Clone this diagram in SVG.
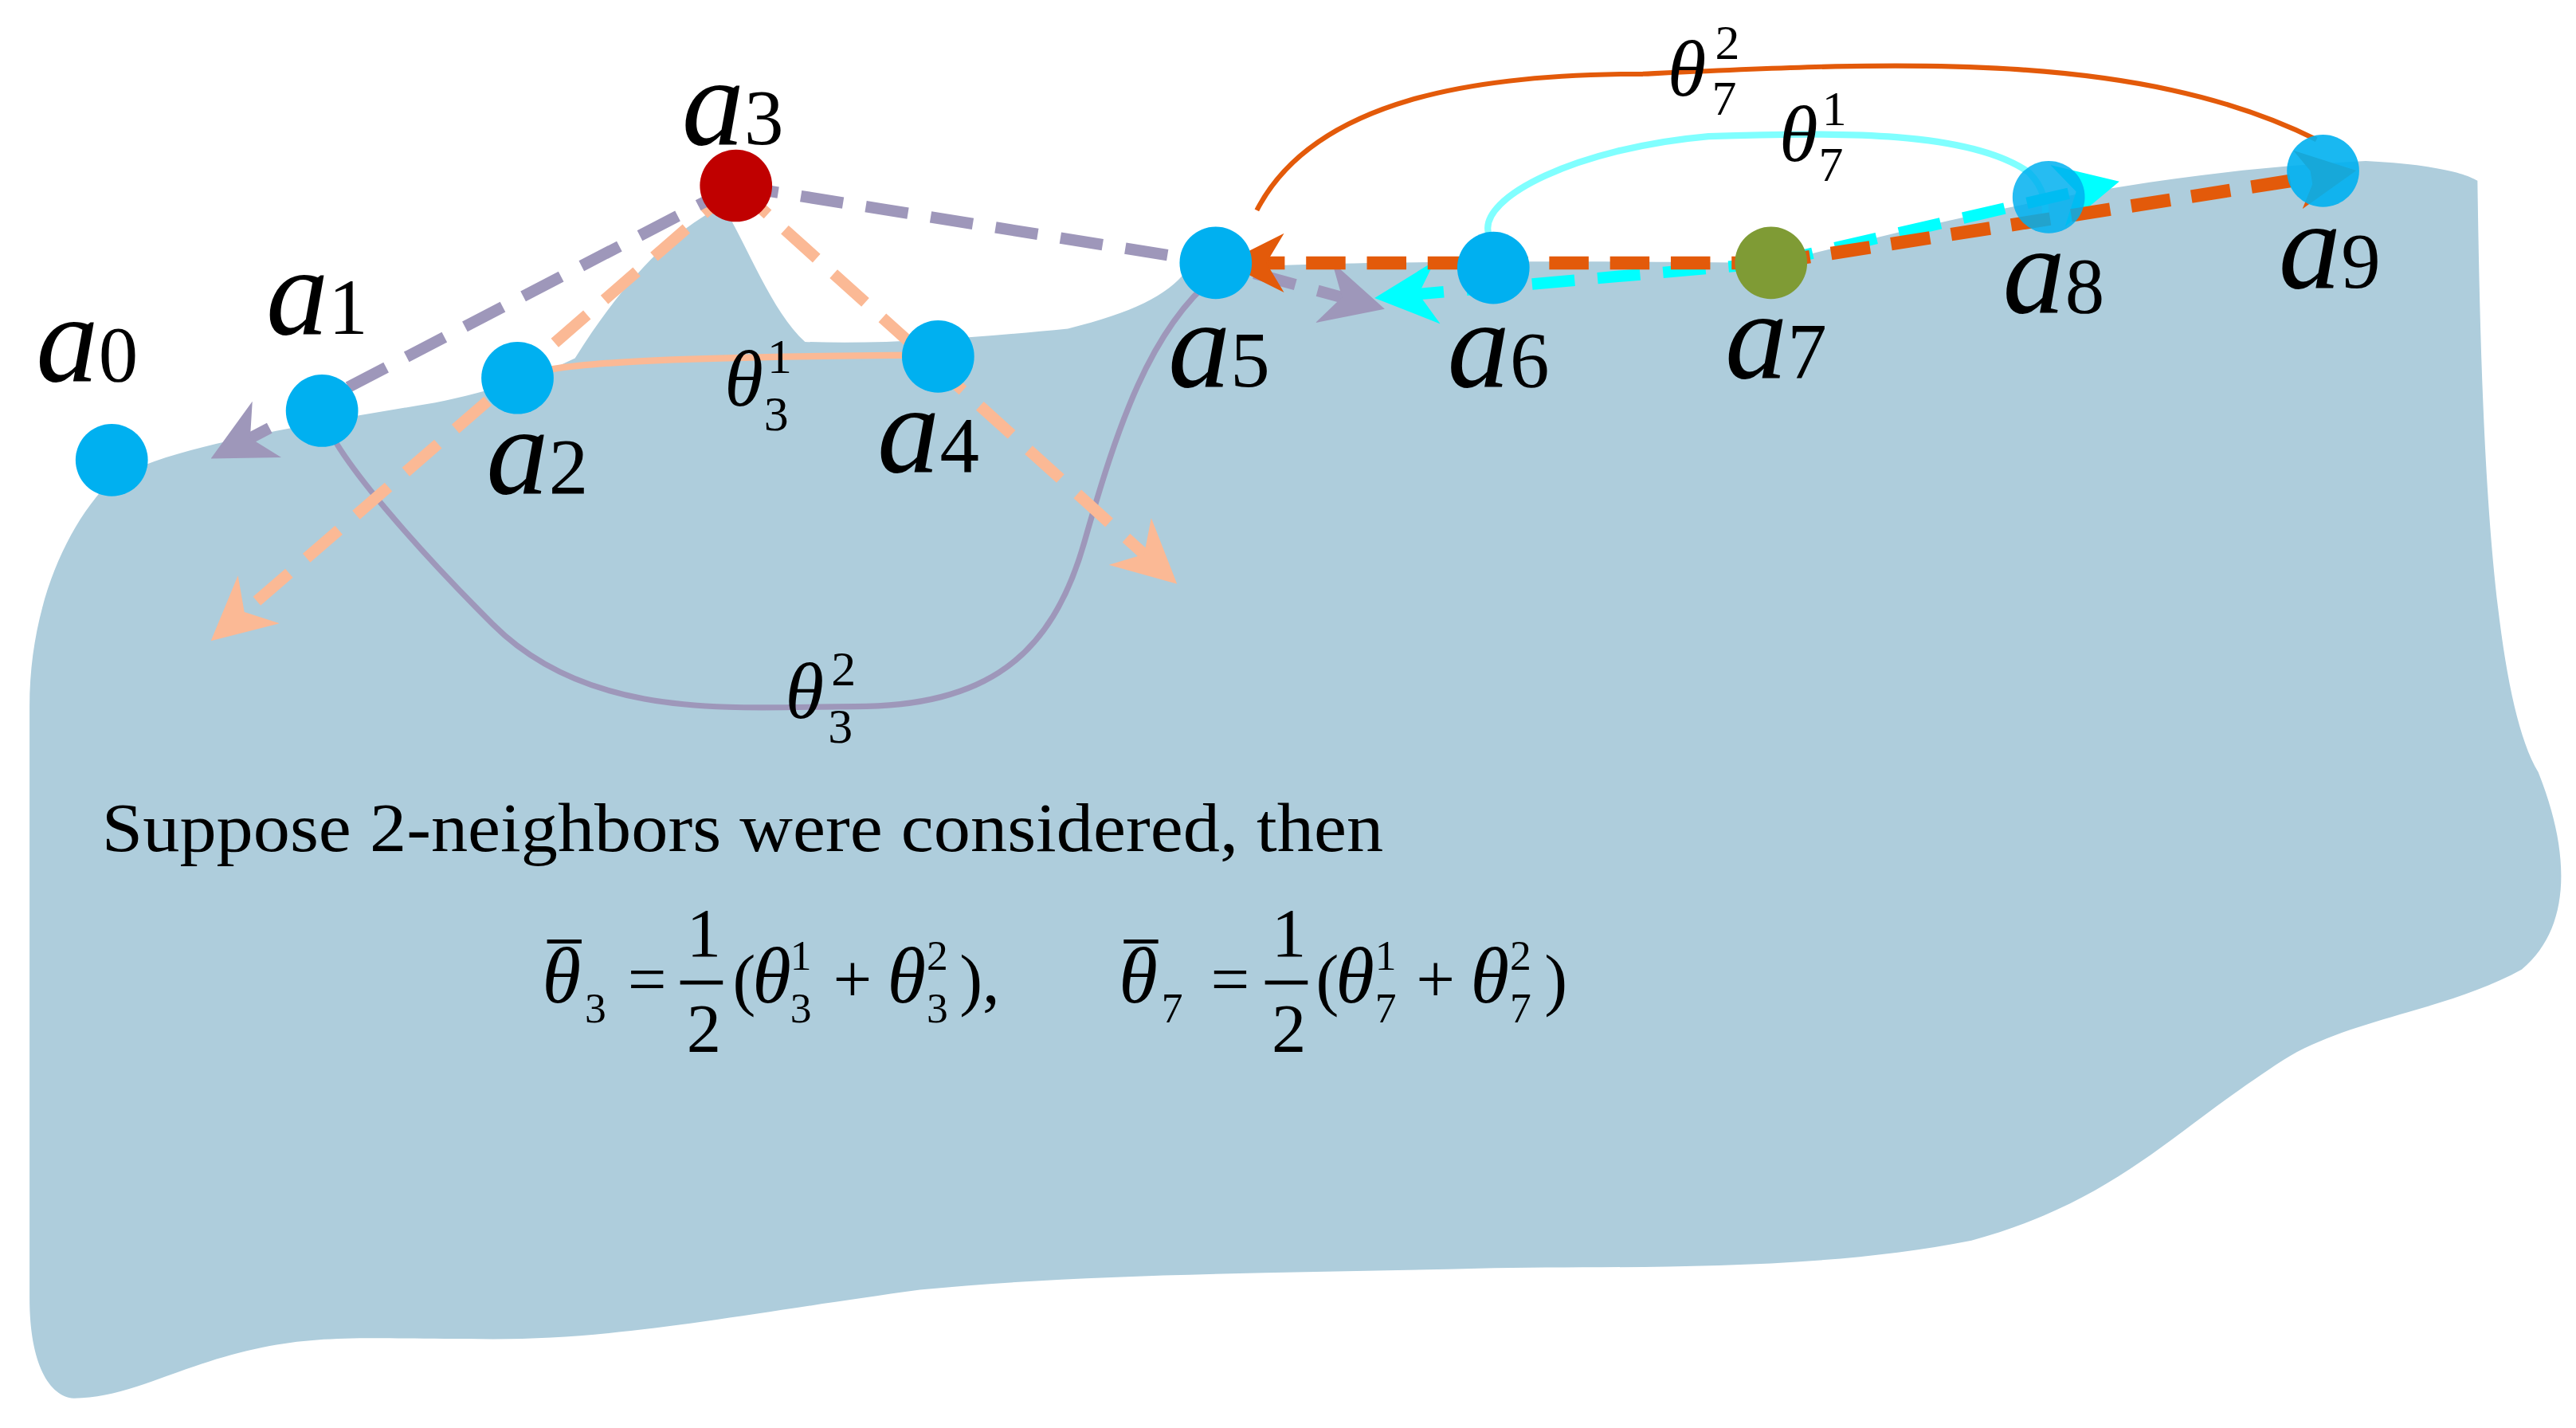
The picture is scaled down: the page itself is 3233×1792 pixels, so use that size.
<svg xmlns="http://www.w3.org/2000/svg" width="3233" height="1792" viewBox="0 0 3233 1792">
<style>
.lbl{font-family:"Liberation Serif",serif;font-style:italic;font-size:76px;fill:#000}
.num{font-style:normal;font-size:48px}
.th{font-family:"Liberation Serif",serif;font-style:italic;font-size:48px;fill:#000}
.sm{font-style:normal;font-size:30px}
.eq{font-family:"Liberation Serif",serif;font-size:42px;fill:#000}
.dot{stroke:none}
</style>
<defs>
<marker id="mP" viewBox="0 0 10 10" refX="6" refY="5" markerWidth="5.5" markerHeight="5.5" orient="auto" markerUnits="strokeWidth"><path d="M0,0 L10,5 L0,10 L3,5 Z" fill="#9E97BA"/></marker>
<marker id="mO" viewBox="0 0 10 10" refX="6" refY="5" markerWidth="5.5" markerHeight="5.5" orient="auto" markerUnits="strokeWidth"><path d="M0,0 L10,5 L0,10 L3,5 Z" fill="#FBB995"/></marker>
<marker id="mC" viewBox="0 0 10 10" refX="6" refY="5" markerWidth="5.5" markerHeight="5.5" orient="auto" markerUnits="strokeWidth"><path d="M0,0 L10,5 L0,10 L3,5 Z" fill="#00FFFF"/></marker>
<marker id="mR" viewBox="0 0 10 10" refX="6" refY="5" markerWidth="4.5" markerHeight="4.5" orient="auto" markerUnits="strokeWidth"><path d="M0,0 L10,5 L0,10 L3,5 Z" fill="#E35A0A"/></marker>
</defs>
<rect width="3233" height="1792" fill="#fff"/>
<g transform="scale(2.0619)">
<path id="surface" fill="#AECDDC" d="M45 851 C30 850 18 830 18 790 L18 430 C18 370 40 320 68 292 C100 275 140 268 200 256 L265 245 C300 238 330 228 350 218 C380 170 410 140 440 125 C455 150 470 190 490 208 C540 210 600 205 650 200 C690 190 710 180 722 165 C760 160 900 158 1080 160 C1200 130 1300 105 1440 98 C1480 100 1500 105 1508 110 C1510 250 1515 420 1545 470 C1565 520 1565 565 1535 590 C1490 615 1430 620 1390 645 C1320 690 1290 730 1200 755 C1100 775 980 770 900 772 C780 775 660 775 560 785 C450 800 380 815 300 815 C230 815 200 812 160 820 C110 830 80 851 45 851 Z"/>
<g id="connectors" fill="none">
<path d="M196 250 C200 275 260 340 300 380 C360 440 450 430 520 430 C600 430 640 400 660 330 C680 260 700 200 740 168" stroke="#9E97BA" stroke-width="3.5"/>
<path d="M316 232 C320 220 420 217 575 216 L563 203" stroke="#FBB995" stroke-width="4"/>
<path d="M448 113 L140 380" stroke="#FBB995" stroke-width="7" stroke-dasharray="26 14" marker-end="url(#mO)"/>
<path d="M448 113 L705 345" stroke="#FBB995" stroke-width="7" stroke-dasharray="26 14" marker-end="url(#mO)"/>
<path d="M448 113 L142 272" stroke="#9E97BA" stroke-width="7" stroke-dasharray="26 14" marker-end="url(#mP)"/>
<path d="M448 113 L740 160 L828 184" stroke="#9E97BA" stroke-width="7" stroke-dasharray="26 14" marker-end="url(#mP)"/>
<path d="M906 142 C900 120 960 90 1040 83 C1120 80 1200 80 1235 105 C1245 115 1245 125 1245 130" stroke="#80FFFF" stroke-width="4"/>
<path d="M1078 160 L852 180" stroke="#00FFFF" stroke-width="7" stroke-dasharray="26 14" marker-end="url(#mC)"/>
<path d="M1078 160 L1275 114" stroke="#00FFFF" stroke-width="7" stroke-dasharray="26 14" marker-end="url(#mC)"/>
<path d="M765 128 C800 60 900 45 1000 45 C1150 38 1300 30 1410 85" stroke="#E35A0A" stroke-width="3"/>
<path d="M1078 160 L760 160" stroke="#E35A0A" stroke-width="8" stroke-dasharray="24 13" marker-end="url(#mR)"/>
<path d="M1078 160 L1420 106" stroke="#E35A0A" stroke-width="8" stroke-dasharray="24 13" marker-end="url(#mR)"/>
</g>
<g id="a0"><circle class="dot" cx="68" cy="280" r="22" fill="#00B0F0"/><text class="lbl" x="22" y="232">a<tspan class="num">0</tspan></text></g>
<g id="a1"><circle class="dot" cx="196" cy="250" r="22" fill="#00B0F0"/><text class="lbl" x="162" y="203">a<tspan class="num">1</tspan></text></g>
<g id="a2"><circle class="dot" cx="315" cy="230" r="22" fill="#00B0F0"/><text class="lbl" x="296" y="300">a<tspan class="num">2</tspan></text></g>
<g id="a3"><circle class="dot" cx="448" cy="113" r="22" fill="#C00000"/><text class="lbl" x="415" y="88">a<tspan class="num">3</tspan></text></g>
<g id="a4"><circle class="dot" cx="571" cy="217" r="22" fill="#00B0F0"/><text class="lbl" x="534" y="287">a<tspan class="num">4</tspan></text></g>
<g id="a5"><circle class="dot" cx="740" cy="160" r="22" fill="#00B0F0"/><text class="lbl" x="711" y="235">a<tspan class="num">5</tspan></text></g>
<g id="a6"><circle class="dot" cx="909" cy="163" r="22" fill="#00B0F0"/><text class="lbl" x="881" y="235">a<tspan class="num">6</tspan></text></g>
<g id="a7"><circle class="dot" cx="1078" cy="160" r="22" fill="#7F9B35"/><text class="lbl" x="1050" y="230">a<tspan class="num">7</tspan></text></g>
<g id="a8"><circle class="dot" cx="1247" cy="120" r="22" fill="#00B0F0" fill-opacity="0.85"/><text class="lbl" x="1219" y="190">a<tspan class="num">8</tspan></text></g>
<g id="a9"><circle class="dot" cx="1414" cy="104" r="22" fill="#00B0F0" fill-opacity="0.9"/><text class="lbl" x="1387" y="175">a<tspan class="num">9</tspan></text></g>
<g id="labels">
<text class="th" x="441" y="247">θ</text><text class="th sm" x="467" y="227">1</text><text class="th sm" x="465" y="262">3</text>
<text class="th" x="478" y="437">θ</text><text class="th sm" x="506" y="417">2</text><text class="th sm" x="504" y="452">3</text>
<text class="th" x="1015" y="58">θ</text><text class="th sm" x="1044" y="36">2</text><text class="th sm" x="1042" y="70">7</text>
<text class="th" x="1083" y="98">θ</text><text class="th sm" x="1109" y="76">1</text><text class="th sm" x="1107" y="110">7</text>
<text class="eq" x="62" y="518" font-size="42" textLength="780" lengthAdjust="spacingAndGlyphs">Suppose 2-neighbors were considered, then</text>
<g class="eq">
<text class="th" x="330" y="610" font-size="42">θ</text><line x1="333" y1="573" x2="354" y2="573" stroke="#000" stroke-width="2.5"/><text x="356" y="622" font-size="26">3</text>
<text x="382" y="610">=</text>
<text x="418" y="582">1</text><line x1="414" y1="598" x2="440" y2="598" stroke="#000" stroke-width="2.5"/><text x="418" y="640">2</text>
<text x="446" y="610">(</text><text class="th" x="458" y="610" font-size="42">θ</text><text x="481" y="590" font-size="26">1</text><text x="481" y="622" font-size="26">3</text>
<text x="507" y="610">+</text><text class="th" x="540" y="610" font-size="42">θ</text><text x="564" y="590" font-size="26">2</text><text x="564" y="622" font-size="26">3</text><text x="584" y="610">),</text>
<text class="th" x="681" y="610" font-size="42">θ</text><line x1="684" y1="573" x2="705" y2="573" stroke="#000" stroke-width="2.5"/><text x="707" y="622" font-size="26">7</text>
<text x="737" y="610">=</text>
<text x="774" y="582">1</text><line x1="770" y1="598" x2="796" y2="598" stroke="#000" stroke-width="2.5"/><text x="774" y="640">2</text>
<text x="801" y="610">(</text><text class="th" x="813" y="610" font-size="42">θ</text><text x="837" y="590" font-size="26">1</text><text x="837" y="622" font-size="26">7</text>
<text x="862" y="610">+</text><text class="th" x="895" y="610" font-size="42">θ</text><text x="919" y="590" font-size="26">2</text><text x="919" y="622" font-size="26">7</text><text x="940" y="610">)</text>
</g>
</g>
</g>
</svg>
